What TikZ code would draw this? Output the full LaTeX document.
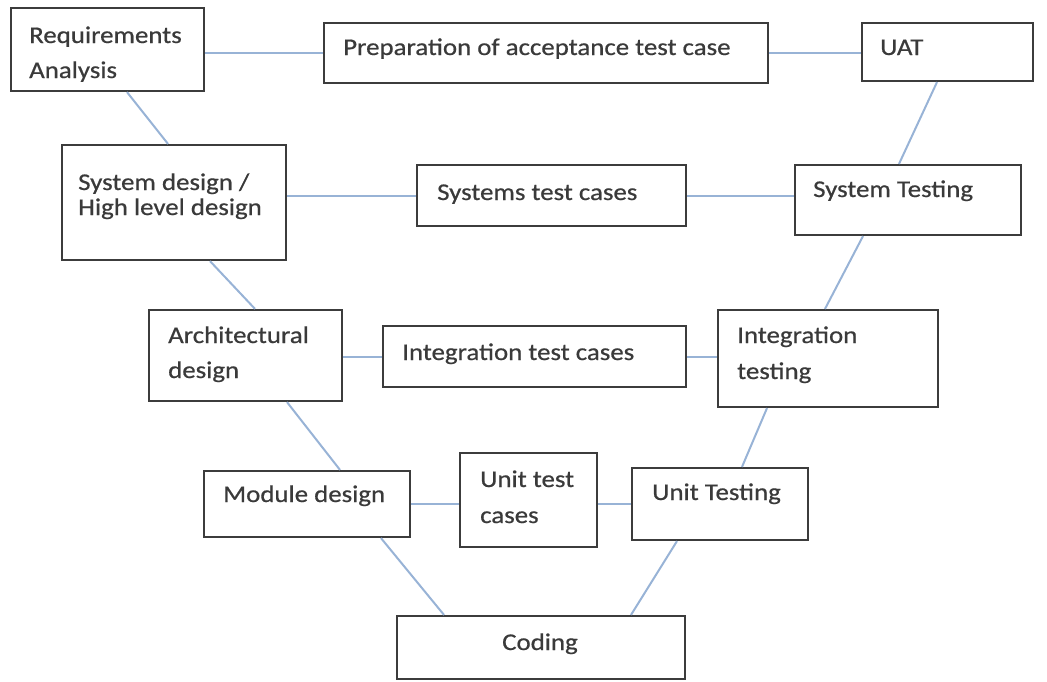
\documentclass[tikz,border=0pt]{standalone}
\usepackage{fontspec}
\setmainfont{Carlito}[FakeStretch=1.12,FakeBold=0.6]
\usetikzlibrary{calc}
\definecolor{boxline}{HTML}{3C3C3C}
\definecolor{conn}{HTML}{98B3D6}
\definecolor{txt}{HTML}{3A3A3A}
\begin{document}
\begin{tikzpicture}[x=1pt,y=-1pt,
  box/.style={draw=boxline,line width=2.2pt,fill=white,inner sep=0pt,rectangle},
  lab/.style={anchor=base west,inner sep=0pt,text=txt,font=\fontsize{24}{28}\selectfont},
  link/.style={draw=conn,line width=2pt}]
\useasboundingbox (0,0) rectangle (1047,681);
% boxes
\node[box,minimum width=193pt,minimum height=83pt] (req) at (107.5,49.5) {};
\node[box,minimum width=444pt,minimum height=60pt] (prep) at (546,53) {};
\node[box,minimum width=171pt,minimum height=58pt] (uat) at (947.5,52) {};
\node[box,minimum width=224pt,minimum height=115pt] (sysd) at (174,202.5) {};
\node[box,minimum width=269pt,minimum height=61pt] (stc) at (551.5,195.5) {};
\node[box,minimum width=226pt,minimum height=70pt] (syst) at (908,200) {};
\node[box,minimum width=193pt,minimum height=91pt] (arch) at (245.5,355.5) {};
\node[box,minimum width=303pt,minimum height=61pt] (itc) at (534.5,356.5) {};
\node[box,minimum width=220pt,minimum height=97pt] (intt) at (828,358.5) {};
\node[box,minimum width=206pt,minimum height=66pt] (mod) at (307,504) {};
\node[box,minimum width=137pt,minimum height=94pt] (utc) at (528.5,500) {};
\node[box,minimum width=176pt,minimum height=72pt] (ut) at (720,504) {};
\node[box,minimum width=288pt,minimum height=63pt] (cod) at (541,647.5) {};
% horizontal connectors
\draw[link] (req.east |- prep.west) -- (prep.west);
\draw[link] (prep.east) -- (prep.east -| uat.west);
\draw[link] (sysd.east |- stc.west) -- (stc.west);
\draw[link] (stc.east) -- (stc.east -| syst.west);
\draw[link] (arch.east |- itc.west) -- (itc.west);
\draw[link] (itc.east) -- (itc.east -| intt.west);
\draw[link] (mod.east) -- (mod.east -| utc.west);
\draw[link] (utc.east |- ut.west) -- (ut.west);
% diagonal connectors
\draw[link] (req.south -| 127,0) -- (sysd.north -| 168,0);
\draw[link] (sysd.south -| 210,0) -- (arch.north -| 255,0);
\draw[link] (arch.south -| 287,0) -- (mod.north -| 340,0);
\draw[link] (mod.south -| 381,0) -- (cod.north -| 444,0);
\draw[link] (ut.south -| 677,0) -- (cod.north -| 631,0);
\draw[link] (intt.south -| 767,0) -- (ut.north -| 742,0);
\draw[link] (syst.south -| 863,0) -- (intt.north -| 825,0);
\draw[link] (uat.south -| 937,0) -- (syst.north -| 899,0);
% texts
\node[lab] (t1a) at (29,43) {Requirements};
\node[lab] (t1b) at (29,78) {Analysis};
\node[lab] (t2) at (343,55) {Preparation of acceptance test case};
\node[lab] (t3) at (880,55) {UAT};
\node[lab] (t4a) at (78,190) {System design /};
\node[lab] (t4b) at (78,215) {High level design};
\node[lab] (t5) at (437,200) {Systems test cases};
\node[lab] (t6) at (813,197) {System Testing};
\node[lab] (t7a) at (168,343) {Architectural};
\node[lab] (t7b) at (168,378) {design};
\node[lab] (t8) at (402,360) {Integration test cases};
\node[lab] (t9a) at (737,343) {Integration};
\node[lab] (t9b) at (737,379) {testing};
\node[lab] (t10) at (223,502) {Module design};
\node[lab] (t11a) at (480,487) {Unit test};
\node[lab] (t11b) at (480,523) {cases};
\node[lab] (t12) at (652,500) {Unit Testing};
\node[lab] (t13) at (502,650) {Coding};
\end{tikzpicture}
\end{document}
